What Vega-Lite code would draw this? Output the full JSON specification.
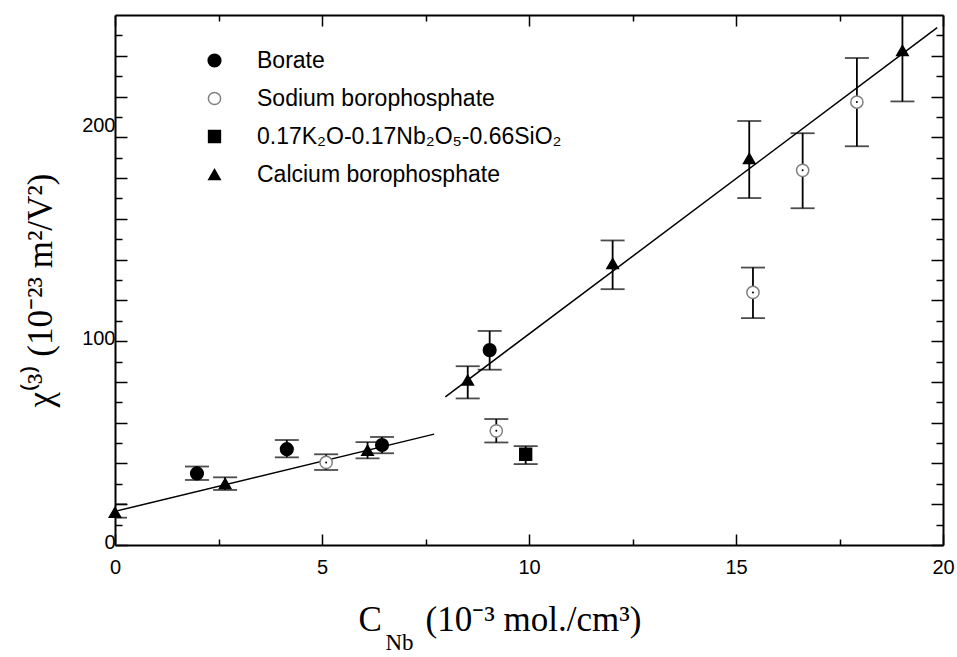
{
  "$schema": "https://vega.github.io/schema/vega-lite/v6.json",
  "width": 828,
  "height": 530,
  "autosize": {"type": "none"},
  "padding": {"left": 115, "top": 15, "right": 14, "bottom": 112},
  "background": "white",
  "config": {
    "view": {"stroke": null},
    "axis": {
      "labelFont": "Liberation Sans",
      "labelFontSize": 20,
      "labelColor": "black",
      "tickColor": "black",
      "domainColor": "black",
      "grid": false,
      "titleColor": "black",
      "titleFont": "Liberation Serif",
      "titleFontWeight": "normal",
      "domainWidth": 2,
      "tickWidth": 1.5,
      "labelFlush": false,
      "labelOverlap": false,
      "labelBound": false
    }
  },
  "datasets": {
    "pts": [
      {"series": "Borate", "x": 1.98, "y": 35.1, "lo": 31.9, "hi": 38.5},
      {"series": "Borate", "x": 4.15, "y": 47, "lo": 43, "hi": 51.5},
      {"series": "Borate", "x": 6.45, "y": 49, "lo": 45, "hi": 53},
      {"series": "Borate", "x": 9.05, "y": 95.6, "lo": 86, "hi": 105},
      {"series": "Sodium borophosphate", "x": 5.1, "y": 40.5, "lo": 36.8, "hi": 44.5},
      {"series": "Sodium borophosphate", "x": 9.21, "y": 56, "lo": 50.3, "hi": 61.8},
      {"series": "Sodium borophosphate", "x": 15.41, "y": 123.9, "lo": 111.3, "hi": 136.1},
      {"series": "Sodium borophosphate", "x": 16.61, "y": 183.8, "lo": 165.2, "hi": 202},
      {"series": "Sodium borophosphate", "x": 17.92, "y": 217.3, "lo": 195.6, "hi": 238.9},
      {"series": "0.17K₂O-0.17Nb₂O₅-0.66SiO₂", "x": 9.92, "y": 44.5, "lo": 39.7, "hi": 48.5},
      {"series": "Calcium borophosphate", "x": 0, "y": 16, "lo": 13.4, "hi": 20},
      {"series": "Calcium borophosphate", "x": 2.66, "y": 30.2, "lo": 27, "hi": 33.2},
      {"series": "Calcium borophosphate", "x": 6.1, "y": 46.5, "lo": 42.5, "hi": 50.5},
      {"series": "Calcium borophosphate", "x": 8.52, "y": 80.9, "lo": 71.9, "hi": 87.7},
      {"series": "Calcium borophosphate", "x": 12.02, "y": 138.1, "lo": 125.5, "hi": 149.4},
      {"series": "Calcium borophosphate", "x": 15.32, "y": 189.6, "lo": 170.2, "hi": 208},
      {"series": "Calcium borophosphate", "x": 19.02, "y": 242.6, "lo": 217.6, "hi": 267.6}
    ],
    "fit": [
      {"seg": "a", "x": 0, "y": 16.5},
      {"seg": "a", "x": 7.71, "y": 54.4},
      {"seg": "b", "x": 7.98, "y": 72.7},
      {"seg": "b", "x": 19.86, "y": 253.8}
    ]
  },
  "layer": [
    {
      "data": {"name": "fit"},
      "mark": {"type": "line", "color": "black", "strokeWidth": 1.5},
      "encoding": {
        "x": {
          "field": "x", "type": "quantitative",
          "scale": {"domain": [0, 20], "nice": false, "zero": false},
          "axis": {
            "orient": "bottom", "values": [0, 5, 10, 15, 20], "tickSize": -11,
            "labelPadding": 23, "labelFontSize": 20, "labelFont": "Liberation Sans",
            "title": "C\u00a0\u00a0\u00a0\u00a0\u00a0(10⁻³ mol./cm³)",
            "titleFontSize": 35, "titleAlign": "left", "titleBaseline": "alphabetic",
            "titleX": 243, "titleY": 85, "titleAnchor": null
          }
        },
        "y": {
          "field": "y", "type": "quantitative",
          "scale": {"domain": [0, 260], "nice": false, "zero": false},
          "axis": {
            "orient": "left", "values": [0, 20, 40, 60, 80, 100, 120, 140, 160, 180, 200, 220, 240],
            "tickSize": -12, "labelPadding": 12, "labelFontSize": 20, "labelFont": "Liberation Sans",
            "labelOffset": -3,
            "labelExpr": "datum.value === 0 || datum.value === 100 ? datum.label : ''",
            "title": "χ⁽³⁾ (10⁻²³ m²/V²)",
            "titleFontSize": 35, "titleAngle": -90, "titleAlign": "center", "titleBaseline": "middle",
            "titleX": -75, "titleY": 275
          }
        },
        "detail": {"field": "seg"}
      }
    },
    {
      "data": {"name": "pts"},
      "mark": {"type": "rule", "color": "black", "strokeWidth": 1.8, "clip": true},
      "encoding": {
        "x": {
          "field": "x", "type": "quantitative",
          "axis": {
            "orient": "bottom", "values": [2.5, 7.5, 12.5, 17.5], "tickSize": -6,
            "labels": false, "domain": false,
            "title": "Nb", "titleFontSize": 23, "titleAlign": "center", "titleBaseline": "alphabetic",
            "titleX": 284, "titleY": 104
          }
        },
        "y": {
          "field": "lo", "type": "quantitative",
          "axis": {
            "orient": "left",
            "values": [10, 30, 50, 70, 90, 110, 130, 150, 170, 190, 210, 230, 250],
            "tickSize": -7, "labels": false, "domain": false, "title": null
          }
        },
        "y2": {"field": "hi"}
      }
    },
    {
      "data": {"name": "pts"},
      "mark": {"type": "tick", "orient": "horizontal", "color": "black", "size": 24, "thickness": 1.8, "clip": true},
      "encoding": {
        "x": {
          "field": "x", "type": "quantitative",
          "axis": {"orient": "top", "values": [0, 5, 10, 15, 20], "tickSize": -11, "labels": false, "title": null}
        },
        "y": {
          "field": "lo", "type": "quantitative",
          "axis": {
            "orient": "right", "values": [0, 20, 40, 60, 80, 100, 120, 140, 160, 180, 200, 220, 240],
            "tickSize": -12, "labels": false, "title": null
          }
        }
      }
    },
    {
      "data": {"name": "pts"},
      "mark": {"type": "tick", "orient": "horizontal", "color": "black", "size": 24, "thickness": 1.8, "clip": true},
      "encoding": {
        "x": {
          "field": "x", "type": "quantitative",
          "axis": {"orient": "top", "values": [2.5, 7.5, 12.5, 17.5], "tickSize": -6, "labels": false, "domain": false, "title": null}
        },
        "y": {
          "field": "hi", "type": "quantitative",
          "axis": {
            "orient": "right",
            "values": [10, 30, 50, 70, 90, 110, 130, 150, 170, 190, 210, 230, 250],
            "tickSize": -7, "labels": false, "domain": false, "title": null
          }
        }
      }
    },
    {
      "data": {"name": "pts"},
      "mark": {"type": "point", "filled": true, "strokeWidth": 1.5, "opacity": 1},
      "encoding": {
        "x": {"field": "x", "type": "quantitative", "axis": null},
        "y": {
          "field": "y", "type": "quantitative",
          "axis": {
            "orient": "left", "values": [200], "ticks": false, "domain": false,
            "labelPadding": 0, "labelOffset": -12, "labelFontSize": 20, "labelFont": "Liberation Sans", "title": null
          }
        },
        "shape": {
          "field": "series", "type": "nominal",
          "scale": {
            "domain": ["Borate", "Sodium borophosphate", "0.17K₂O-0.17Nb₂O₅-0.66SiO₂", "Calcium borophosphate"],
            "range": ["circle", "circle", "square", "triangle-up"]
          },
          "legend": {
            "orient": "none", "legendX": 88, "legendY": 34, "title": null,
            "labelFont": "Liberation Sans", "labelFontSize": 23, "labelColor": "black", "labelLimit": 1000,
            "rowPadding": 14, "labelOffset": 31, "symbolStrokeWidth": 1.5, "padding": 0
          }
        },
        "fill": {
          "field": "series", "type": "nominal",
          "scale": {
            "domain": ["Borate", "Sodium borophosphate", "0.17K₂O-0.17Nb₂O₅-0.66SiO₂", "Calcium borophosphate"],
            "range": ["black", "white", "black", "black"]
          }
        },
        "stroke": {
          "field": "series", "type": "nominal",
          "scale": {
            "domain": ["Borate", "Sodium borophosphate", "0.17K₂O-0.17Nb₂O₅-0.66SiO₂", "Calcium borophosphate"],
            "range": ["black", "#808080", "black", "black"]
          }
        },
        "size": {
          "field": "series", "type": "nominal",
          "scale": {
            "domain": ["Borate", "Sodium borophosphate", "0.17K₂O-0.17Nb₂O₅-0.66SiO₂", "Calcium borophosphate"],
            "range": [160, 130, 130, 180]
          }
        }
      }
    },
    {
      "data": {"name": "pts"},
      "transform": [{"filter": "datum.series === 'Sodium borophosphate'"}],
      "mark": {"type": "point", "filled": true, "color": "black", "size": 4, "opacity": 1},
      "encoding": {
        "x": {"field": "x", "type": "quantitative", "axis": null},
        "y": {"field": "y", "type": "quantitative", "axis": null}
      }
    }
  ],
  "resolve": {"axis": {"x": "independent", "y": "independent"}}
}
